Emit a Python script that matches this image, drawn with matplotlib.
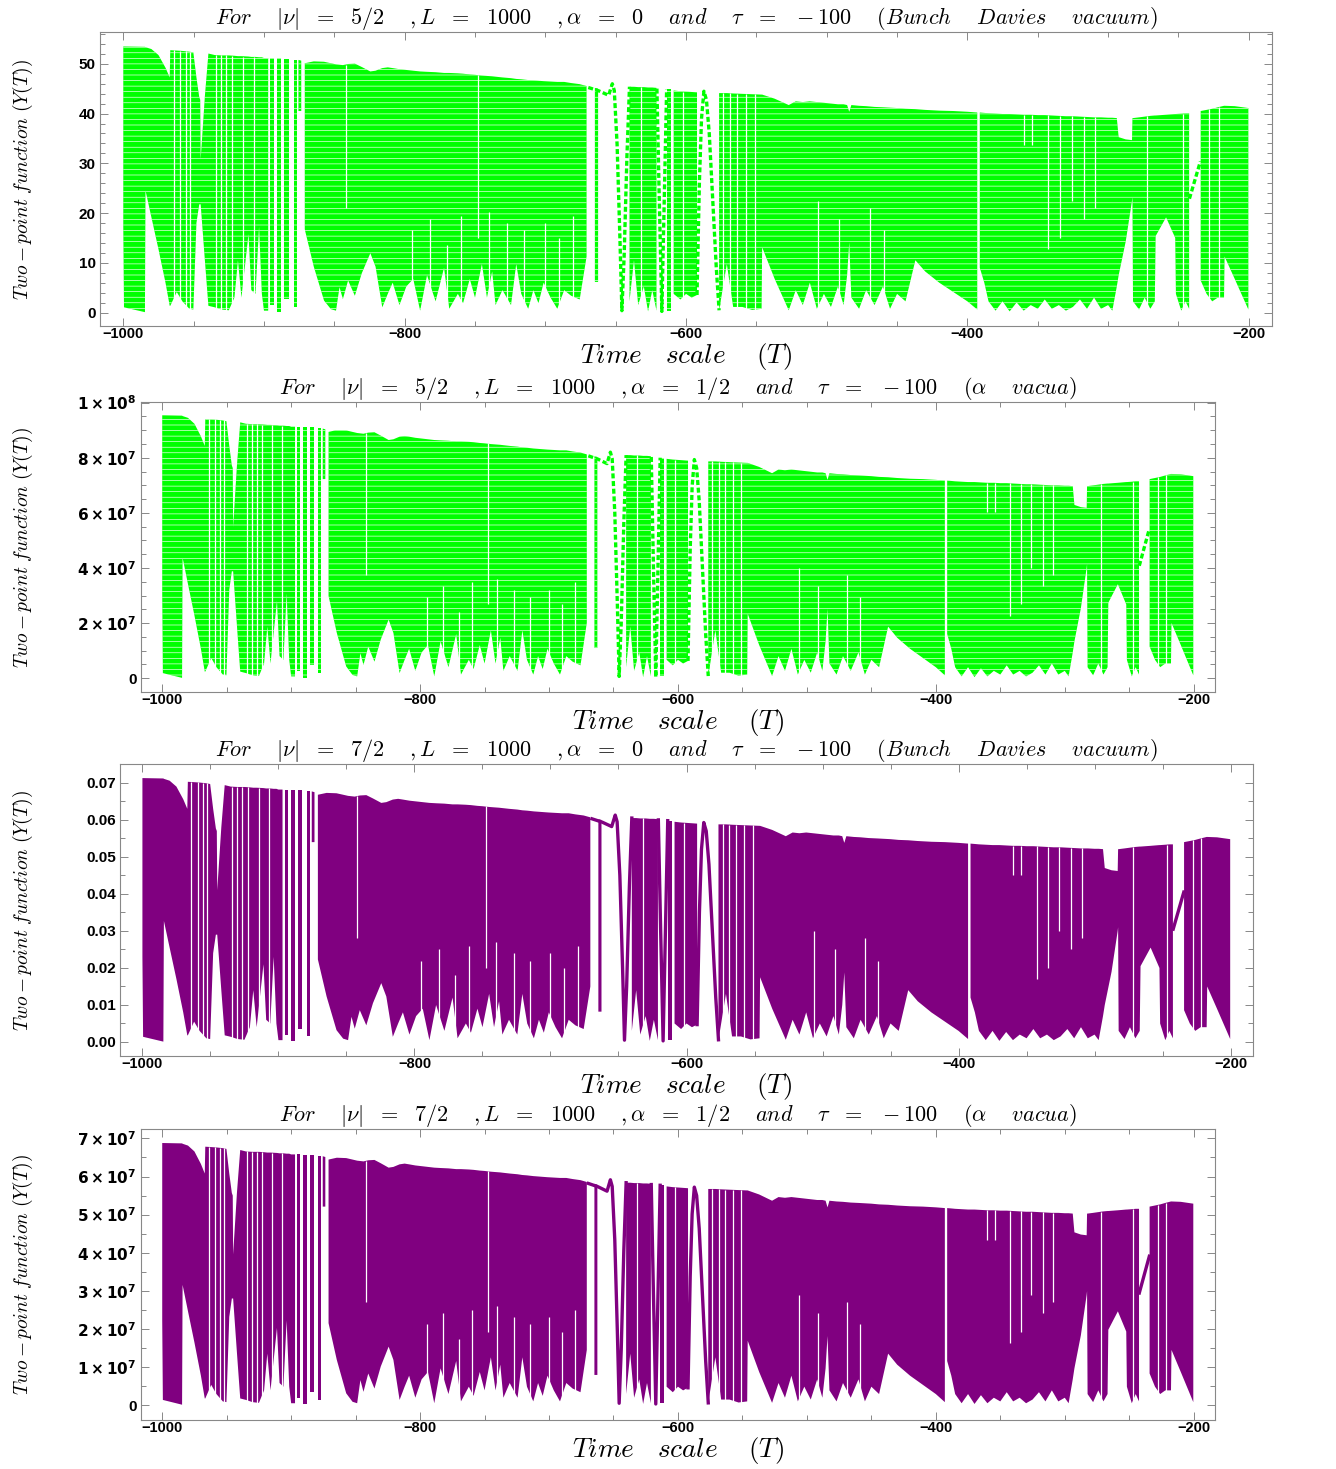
import numpy as np
import matplotlib
matplotlib.use("Agg")
import matplotlib.pyplot as plt

# The four panels share the same shape; each is drawn with its own peak value.
nan = np.nan
band_T = [-1000, -999.5, -984.6, -984.2, -980, -975, -970, -967, -966.6, -962, -958, -953, -950.2,
          -948, -946, -945.3, -945, -942, -939.5, -935, -930, -925, -921, -918.5, -916, -911, -909,
          -906, -903.5, -901.5, -900, -897, -896.3, -895.5, -893, -891.8, -890.5, -888, -887,
          -885.5, -882.5, -881, -879, -876.5, -876, -875.5, -873.5, -872.2, -871, -864.6, -857.3,
          -852.4, -848.8, -846.3, -843.9, -840.2, -835.4, -830.5, -824.4, -820.7, -815.9, -812,
          -808.5, -803.7, -798.8, -793.9, -789, -784.1, -778, -772, -768.3, -762.2, -758.5, -753.7,
          -750, -745.1, -741.5, -737.8, -735.4, -730.5, -724.4, -720.7, -717.1, -712.2, -708.5,
          -704.9, -701.2, -696.3, -691.5, -686.6, -681.7, -675.6, -670.7, -669.5, -664.8, -662.5,
          -661.5, -640.2, -637, -634, -630, -627, -624, -621, -620.5, -613.8, -610.8, -609.8,
          -608.8, -604, -600, -596, -592.2, -591.8, -576.5, -571, -566.5, -560, -553, -546.3,
          -545.9, -537, -527, -522, -517, -512, -507, -502, -497, -492, -488, -485.5, -484, -482.5,
          -477, -472, -466, -460, -455, -450, -444, -437, -430, -420, -410, -400, -393, -392.2,
          -391.2, -388, -385, -380, -375, -370, -365, -360, -355, -350, -345, -340, -335, -330,
          -325, -320, -315, -310, -305, -300, -297, -293.8, -292.5, -287.5, -283, -282.7, -282.3,
          -278, -274, -270, -266.8, -266.2, -258.8, -252.3, -251.8, -248, -245, -242.4, -242,
          -234.2, -230, -226, -222, -217.6, -217.2, -210, -200.3]
band_top = [71.3, 71.3, 71.2, 71.1, 70.6, 69, 65.6, 63, 70.3, 70.2, 70.1, 69.9, 69.7,
            63, 57.7, 57, 41, 58, 69.4, 69, 68.9, 68.9, 68.8, 68.7, 68.7, 68.6, 68.5,
            68.5, 68.4, 68.4, 68.2, 68.2, nan, 68.2, 68.2, nan, 68.1, 68.1, nan,
            68, 68, nan, 67.8, 67.8, nan, 67.7, 67.5, nan, 66.8, 67.3, 67.2,
            66.8, 66.5, 66.4, 66.3, 66.6, 66.7, 65.8, 64.6, 64.8, 65.5, 65.7,
            65.5, 65.2, 65, 64.8, 64.6, 64.5, 64.4, 64.2, 64.2, 64.1, 64, 63.8,
            63.7, 63.5, 63.4, 63.3, 63.2, 63, 62.8, 62.6, 62.5, 62.3, 62.2,
            62.1, 62, 61.9, 61.8, 61.8, 61.5, 61.2, 60.7, nan, 60.2, 60.0,
            nan, 60.5, 60.5, 60.4, 60.4, 60.3, 60.3, 60.2, nan, 59.8, 59.8, nan,
            59.5, 59.3, 59.2, 59.1, 59, nan, 58.8, 58.8, 58.7, 58.6, 58.5, 58.4,
            58.4, 57.3, 55.6, 56.6, 56.4, 56.6, 56.4, 56.2, 56, 55.8, 55.8, 55.6, 53.8, 55.6,
            55.4, 55.3, 55.1, 55, 54.9, 54.8, 54.6, 54.5, 54.3, 54.1, 54, 53.8, 53.6, nan,
            53.6, 53.5, 53.4, 53.3, 53.2, 53.2, 53.1, 53, 53, 52.9, 52.9, 52.8, 52.7, 52.6,
            52.6, 52.5, 52.4, 52.3, 52.3, 52.2, 52.2, 52.1, 47, 46.4, 46.2, 52.1, 52.1,
            52.3, 52.5, 52.7, 52.8, 52.8, 53, 53.2, 53.2, 53.3, 53.4, 53.4, nan,
            54, 54.3, 54.6, 55, 55.4, 55.4, 55.3, 54.8]
band_bot = [23, 1.4, 0.1, 32.7, 25.5, 17, 8, 1.8, 1.8, 5.5, 3, 1, 0.8,
            24, 29, 29, 29, 14, 1.8, 1.4, 0.8, 0.6, 4, 14, 4, 21, 6,
            5, 23, 5, 0.5, 0.5, nan, 2, 2, nan, 0.2, 0.2, nan,
            3.5, 3.5, nan, 1.5, 1.5, nan, 54, 54, nan, 22.3, 12.3, 3.2,
            0.9, 0.5, 6.8, 3.6, 8.6, 4.5, 10.5, 15.9, 12.3, 1.4, 5,
            8, 2, 7, 9, 0.5, 10, 3, 12, 1, 5, 2.5, 9,
            4, 13, 4, 11, 2, 6, 2, 13, 5, 1, 6,
            2.5, 8, 4, 1, 6, 4.5, 3.5, 15, nan, 8.2, 8.2,
            nan, 3, 14, 2, 7, 0.3, 6, 0.5, nan, 0.5, 0.5, nan,
            5, 3.5, 5, 4, 4.7, nan, 0.5, 13, 1.5, 1.5, 0.7, 1,
            17.5, 9, 0.6, 6, 2, 8, 1, 5, 1.5, 7, 2, 10, 18.8, 4,
            1, 6, 2, 7, 1, 5, 3, 14, 11, 8, 5.5, 3, 0.8, nan,
            12, 8, 3, 0.5, 3, 0.3, 2.7, 0.5, 2, 1, 3.5, 1, 2, 0.5,
            1.5, 3.5, 1, 4, 1, 2, 0.5, 7, 10, 19, 30, 31, 3,
            0.8, 4, 1, 3, 20.5, 25.5, 20, 5, 0.5, 3, 1, nan,
            8.6, 5, 3, 4, 4, 15, 9, 0.8]

# single slow oscillations drawn as a line
stroke_T = [-669.5, -662, -655, -653.5, -652.4, -651, -649, -647, -645.6, -644, -642, -640.2, nan,
            -620.7, -619, -617.2, -615.5, -613.8, nan,
            -592.2, -590.5, -589, -587.3, -585.5, -583.5, -581, -578.5, -576.5, nan,
            -242.2, -234.4]
stroke_Y = [60.3, 59.4, 58.2, 60, 61.3, 59.5, 45, 20, 0.5, 15, 42, 60.5, nan,
            60, 30, 0.3, 30, 59.8, nan,
            4.7, 35, 52, 59.3, 57, 48, 30, 12, 0.6, nan,
            30.5, 40.5]

# thin gaps between neighbouring oscillations
slit_T = [-964, -959.4, -955.5, -952.4, -934.1, -930.5, -926.8, -922.7, -914.6, -907.3, -842,
          -795, -782, -770, -760, -747.6, -740, -727, -715, -700, -690, -680, -632, -602,
          -573.5, -568.5, -563.5, -557.5, -551, -506, -491, -469, -459, -360, -353.8, -342.6,
          -334, -326, -317, -309, -272, -247, -228, -221.5]
slit_lo = [0, 0, 0, 0, 0, 0, 0, 0, 0, 0, 28,
           0, 0, 0, 0, 20, 0, 0, 0, 0, 0, 0, 0, 0,
           0, 0, 0, 0, 0, 0, 0, 0, 0, 45, 45, 17,
           20, 30, 25, 28, 0, 0, 0, 0]
slit_hi = [70.3, 70.2, 70, 69.9, 69, 68.9, 68.9, 68.8, 68.6, 68.5, 66.4,
           22, 25, 18, 26, 63.7, 27, 24, 22, 24, 20, 26, 60.4, 59.2,
           58.8, 58.7, 58.6, 58.6, 58.5, 30, 25, 28, 22, 53, 53, 52.9,
           52.7, 52.6, 52.5, 52.3, 52.6, 53.3, 54.5, 55]
shape_peak = 71.3

# per panel values
peak_values = [53.5, 9.54e7, 0.0713, 6.88e7]
titles = [
    r'$For\ \ \ \ |\nu|\ \ =\ \ 5/2\ \ \ \ ,L\ \ =\ \ 1000\ \ \ \ ,\alpha\ \ =\ \ 0\ \ \ \ and\ \ \ \ \tau\ \ =\ \ -100\ \ \ \ (Bunch\ \ \ \ Davies\ \ \ \ vacuum)$',
    r'$For\ \ \ \ |\nu|\ \ =\ \ 5/2\ \ \ \ ,L\ \ =\ \ 1000\ \ \ \ ,\alpha\ \ =\ \ 1/2\ \ \ \ and\ \ \ \ \tau\ \ =\ \ -100\ \ \ \ (\alpha\ \ \ \ vacua)$',
    r'$For\ \ \ \ |\nu|\ \ =\ \ 7/2\ \ \ \ ,L\ \ =\ \ 1000\ \ \ \ ,\alpha\ \ =\ \ 0\ \ \ \ and\ \ \ \ \tau\ \ =\ \ -100\ \ \ \ (Bunch\ \ \ \ Davies\ \ \ \ vacuum)$',
    r'$For\ \ \ \ |\nu|\ \ =\ \ 7/2\ \ \ \ ,L\ \ =\ \ 1000\ \ \ \ ,\alpha\ \ =\ \ 1/2\ \ \ \ and\ \ \ \ \tau\ \ =\ \ -100\ \ \ \ (\alpha\ \ \ \ vacua)$',
]
y_ticks = [[0, 10, 20, 30, 40, 50],
           [0, 2e7, 4e7, 6e7, 8e7, 1e8],
           [0, 0.01, 0.02, 0.03, 0.04, 0.05, 0.06, 0.07],
           [0, 1e7, 2e7, 3e7, 4e7, 5e7, 6e7, 7e7]]
y_labels = [['0', '10', '20', '30', '40', '50'],
            ['0', r'$\mathbf{2\times10^{7}}$', r'$\mathbf{4\times10^{7}}$', r'$\mathbf{6\times10^{7}}$',
             r'$\mathbf{8\times10^{7}}$', r'$\mathbf{1\times10^{8}}$'],
            ['0.00', '0.01', '0.02', '0.03', '0.04', '0.05', '0.06', '0.07'],
            ['0', r'$\mathbf{1\times10^{7}}$', r'$\mathbf{2\times10^{7}}$', r'$\mathbf{3\times10^{7}}$',
             r'$\mathbf{4\times10^{7}}$', r'$\mathbf{5\times10^{7}}$', r'$\mathbf{6\times10^{7}}$',
             r'$\mathbf{7\times10^{7}}$']]
y_minor = [2, 5e6, 0.005, 5e6]
y_limits = [(-2.7, 56.4), (-5.0e6, 1.002e8), (-0.0038, 0.0751), (-3.9e6, 7.25e7)]
x_ticks = [-1000, -800, -600, -400, -200]
x_labels = ['\u22121000', '\u2212800', '\u2212600', '\u2212400', '\u2212200']

plt.rcParams['font.family'] = ['Liberation Sans', 'DejaVu Sans']
plt.rcParams['mathtext.fontset'] = 'cm'
plt.rcParams['hatch.color'] = 'white'
plt.rcParams['hatch.linewidth'] = 0.45

fig = plt.figure(figsize=(13.36, 14.69), dpi=100)
rects = [[0.0749, 0.7781, 0.8772, 0.2001],
         [0.1055, 0.5289, 0.8039, 0.1974],
         [0.0898, 0.2811, 0.8481, 0.1988],
         [0.1055, 0.0334, 0.8039, 0.1981]]
colors = ['#00ff00', '#00ff00', '#800080', '#800080']
ylab_x = 35 / 1336

T = np.array(band_T)
for i in range(4):
    ax = fig.add_axes(rects[i])
    k = peak_values[i] / shape_peak
    top = np.array(band_top) * k
    bot = np.array(band_bot) * k
    dotted = colors[i] == '#00ff00'
    if dotted:
        ax.fill_between(T, bot, top, facecolor=colors[i], edgecolor='white',
                        hatch='---', linewidth=0)
    else:
        ax.fill_between(T, bot, top, facecolor=colors[i], linewidth=0)
    ax.plot(stroke_T, np.array(stroke_Y) * k, color=colors[i], lw=2.4,
            ls=(0, (1.5, 0.8)) if dotted else '-')
    ax.vlines(slit_T, np.array(slit_lo) * k, np.array(slit_hi) * k, color='white', lw=0.9)

    ax.set_xlim(-1016.5, -183.5)
    ax.set_ylim(*y_limits[i])
    ax.set_xticks(x_ticks, x_labels, fontweight='bold', fontsize=10.5)
    ax.set_xticks(np.arange(-1000, -199, 50), minor=True)
    ax.set_yticks(y_ticks[i], y_labels[i], fontweight='bold', fontsize=11,
                  math_fontfamily='dejavusans')
    ax.set_yticks(np.arange(0, y_limits[i][1], y_minor[i]), minor=True)
    ax.tick_params(which='both', direction='in', top=True, right=True, color='#888888',
                   width=0.7, labelcolor='black')
    ax.tick_params(which='major', length=6)
    ax.tick_params(which='minor', length=3.5)
    ax.tick_params(axis='x', which='major', pad=0.5)
    ax.tick_params(axis='y', which='major', pad=3)
    for s in ax.spines.values():
        s.set_color('#888888')
        s.set_linewidth(0.8)

    ax.set_title(titles[i], fontsize=16, pad=1)
    ax.set_xlabel(r'$Time\ \ \ scale\ \ \ \ (T)$', fontsize=19.5, labelpad=0)
    ax.set_ylabel(r'$Two-point\ function\ (Y(T))$', fontsize=14)
    ax.yaxis.set_label_coords(ylab_x, rects[i][1] + rects[i][3] / 2, transform=fig.transFigure)

fig.savefig('out.png', dpi=100)
